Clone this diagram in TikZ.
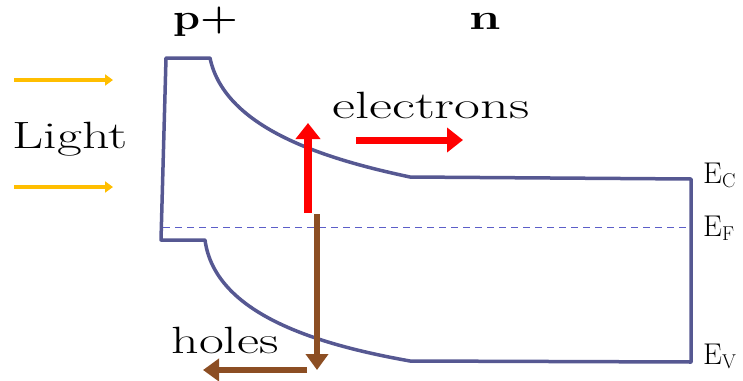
\documentclass[tikz,border=0pt]{standalone}
\usepackage{tikz}
\usetikzlibrary{positioning,arrows.meta}
\definecolor{bandblue}{RGB}{86,88,146}
\definecolor{fermiblue}{RGB}{92,94,200}
\definecolor{lightyellow}{RGB}{255,190,0}
\definecolor{holebrown}{RGB}{140,78,35}
\newcommand{\wide}[1]{\scalebox{1.42}[1]{#1}}
\newcommand{\esub}[1]{E\raisebox{-4pt}{\fontsize{20}{22}\selectfont #1}}
\tikzset{
  band/.style   = {draw=bandblue, line width=3.5pt, line join=round},
  fermi/.style  = {draw=fermiblue, line width=1pt, dash pattern=on 7pt off 5pt},
  lbl/.style    = {inner sep=0pt, anchor=base, font=\fontsize{38}{44}\selectfont},
  hdr/.style    = {inner sep=0pt, anchor=base, font=\fontsize{36}{40}\selectfont\bfseries},
  elbl/.style   = {inner sep=0pt, anchor=base west, font=\fontsize{30}{34}\selectfont},
  photon/.style = {-{Triangle[length=8pt,width=11pt]}, line width=3.5pt, draw=lightyellow},
  eflow/.style  = {-{Triangle[length=16pt,width=24pt]}, line width=8pt, draw=red},
  hflow/.style  = {-{Triangle[length=16pt,width=22pt]}, line width=6.5pt, draw=holebrown},
}

\begin{document}
\begin{tikzpicture}[x=1pt, y=-1pt]
  \useasboundingbox (0,0) rectangle (743,380);
  % band edges
  \draw[band] (161,240) -- (166,58) -- (210,58)
    .. controls (225,130) and (330,160) .. (410,177) -- (691,179)
    -- (691,362) -- (410,361)
    .. controls (320,345) and (215,315) .. (205,240) -- cycle;
  \draw[fermi] (163,227) -- (688,227);
  % labels
  \node[hdr] (pside) at (206,29) {\scalebox{1.2}[1]{p+}};
  \node[hdr] (nside) at (485,29) {\scalebox{1.4}[1]{n}};
  \node[lbl] (light) at (70,148) {\wide{Light}};
  \node[lbl] (elec) at (431,118) {\scalebox{1.48}[1]{electrons}};
  \node[lbl] (hole) at (225,353) {\wide{holes}};
  \node[elbl] (ec) at (703,183) {\esub{C}};
  \node[elbl] (ef) at (703,236) {\esub{F}};
  \node[elbl] (ev) at (703,364) {\esub{V}};
  % light
  \coordinate (l1a) at (14,80);  \coordinate (l1b) at (113,80);
  \coordinate (l2a) at (14,187); \coordinate (l2b) at (113,187);
  \draw[photon] (l1a) -- (l1b);
  \draw[photon] (l2a) -- (l2b);
  % carriers
  \coordinate (gen) at (308,213);  \coordinate (etop) at (308,123);
  \coordinate (ea) at (356,140);   \coordinate (eb) at (463,140);
  \coordinate (hgen) at (317,214); \coordinate (hbot) at (317,370);
  \coordinate (ha) at (307,370);   \coordinate (hb) at (203,370);
  \draw[eflow] (gen) -- (etop);
  \draw[eflow, line width=7pt] (ea) -- (eb);
  \draw[hflow] (hgen) -- (hbot);
  \draw[hflow] (ha) -- (hb);
\end{tikzpicture}
\end{document}
